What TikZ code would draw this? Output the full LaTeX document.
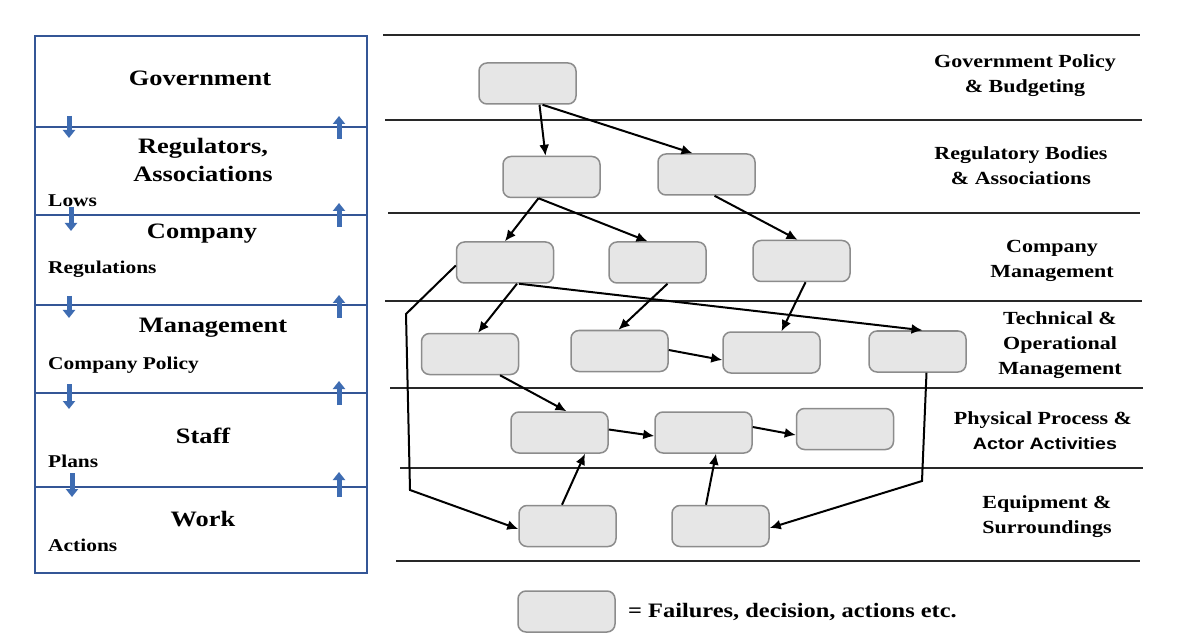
\documentclass[tikz,border=0pt]{standalone}
\usepackage{fontspec}
\setmainfont{Liberation Serif}
\newfontfamily\arialfont{Liberation Sans}
\usetikzlibrary{arrows.meta}
\definecolor{frameblue}{RGB}{52,86,150}
\definecolor{arrowblue}{RGB}{62,108,178}
\definecolor{boxfill}{RGB}{230,230,230}
\definecolor{boxline}{RGB}{140,140,140}
\definecolor{rule}{RGB}{40,40,40}
\tikzset{
  event/.style={draw=boxline, fill=boxfill, line width=1.5pt, rounded corners=8pt,
    minimum width=97pt, minimum height=41pt, inner sep=0pt},
  flow/.style={draw=black, line width=2pt, -{Latex[length=11pt 0, width=10pt 0]}},
  levelrule/.style={draw=rule, line width=2.5pt},
  frame/.style={draw=frameblue, line width=2.8pt},
  down/.style={draw=arrowblue, line width=5pt, -{Triangle[length=8pt 0, width=12pt 0]}},
  heading/.style={font=\bfseries\fontsize{22}{28}\selectfont, xscale=1.2, align=center, inner sep=0pt},
  sublabel/.style={font=\bfseries\fontsize{18}{24}\selectfont, xscale=1.19, anchor=west, inner sep=0pt},
  level/.style={font=\bfseries\fontsize{18.5}{25}\selectfont, xscale=1.19, align=center, inner sep=0pt},
}
\begin{document}
\begin{tikzpicture}[x=1pt, y=-1pt]
\useasboundingbox (0,0) rectangle (1186,636);
\fill[white] (0,0) rectangle (1186,636);

% ---- hierarchy of actors (left column) ----
\draw[frame] (35,36) rectangle (367,573);
\foreach \yy in {127,215,305,393,487}{
  \draw[frame] (35,\yy) -- (367,\yy);
}
% influence arrows between the levels
\foreach \xa/\ya/\yb in {69/116/138, 71/207/231, 69/296/318, 69/384/409, 72/473/497}{
  \draw[down] (\xa,\ya) -- (\xa,\yb);
}
\foreach \yb/\ya in {116/139, 203/227, 295/318, 381/405, 472/497}{
  \draw[down] (339,\ya) -- (339,\yb);
}
\node[heading] (gov) at (200,78) {Government};
\node[heading] (reg) at (203,160) {Regulators,\\Associations};
\node[heading] (comp) at (202,234) {Company};
\node[heading] (mgmt) at (213,328) {Management};
\node[heading] (staff) at (203,436) {Staff};
\node[heading] (work) at (203,519) {Work};
\node[sublabel] (lows) at (48,201) {Lows};
\node[sublabel] (regs) at (48,269) {Regulations};
\node[sublabel] (pol) at (48,365) {Company Policy};
\node[sublabel] (plans) at (48,461) {Plans};
\node[sublabel] (acts) at (48,545) {Actions};

% ---- system levels (right part) ----
\draw[levelrule] (383,35) -- (1140,35);
\draw[levelrule] (385,120) -- (1142,120);
\draw[levelrule] (388,213) -- (1140,213);
\draw[levelrule] (385,301) -- (1142,301);
\draw[levelrule] (390,388) -- (1143,388);
\draw[levelrule] (400,468) -- (1143,468);
\draw[levelrule] (396,561) -- (1140,561);

\node[level] (l1) at (1025,76) {Government Policy\\\& Budgeting};
\node[level] (l2) at (1021,166) {Regulatory Bodies\\\& Associations};
\node[level] (l3) at (1052,261) {Company\\Management};
\node[level] (l4) at (1060,345) {Technical \&\\Operational\\Management};
\node[level] (l5a) at (1043,420) {Physical Process \&};
\node[font=\arialfont\bfseries\fontsize{16.5}{20}\selectfont, xscale=1.19, inner sep=0pt] (l5b) at (1045,444) {Actor Activities};
\node[level] (l6) at (1047,517) {Equipment \&\\Surroundings};

% ---- events ----
\node[event] (A)  at (527.5,83.5) {};
\node[event] (B1) at (551.5,177) {};
\node[event] (B2) at (706.5,174.5) {};
\node[event] (C1) at (505,262.5) {};
\node[event] (C2) at (657.5,262.5) {};
\node[event] (C3) at (801.5,261) {};
\node[event] (D1) at (470,354) {};
\node[event] (D2) at (619.5,351) {};
\node[event] (D3) at (771.5,352.5) {};
\node[event] (D4) at (917.5,351.5) {};
\node[event] (E1) at (559.5,432.5) {};
\node[event] (E2) at (703.5,432.5) {};
\node[event] (E3) at (845,429) {};
\node[event] (F1) at (567.5,526) {};
\node[event] (F2) at (720.5,526) {};

% ---- causal links ----
\draw[flow] ([xshift=12pt]A.south) -- ([xshift=-6pt]B1.north);
\draw[flow] ([xshift=15pt]A.south) -- ([xshift=-14pt]B2.north);
\draw[flow] ([xshift=-13pt]B1.south) -- (C1.north);
\draw[flow] ([xshift=-13pt]B1.south) -- ([xshift=-10pt]C2.north);
\draw[flow] ([xshift=8pt]B2.south) -- ([xshift=-4pt]C3.north);
\coordinate (c1bendA) at (406,314);
\coordinate (c1bendB) at (410,490);
\draw[flow] ([yshift=-3pt]C1.west) -- (c1bendA) -- (c1bendB) -- ([yshift=-3pt]F1.west);
\draw[flow] ([xshift=12pt]C1.south) -- ([xshift=8pt]D1.north);
\draw[flow] ([xshift=14pt]C1.south) -- ([xshift=5pt]D4.north);
\draw[flow] ([xshift=10pt]C2.south) -- ([xshift=-1pt]D2.north);
\draw[flow] ([xshift=4pt]C3.south) -- ([xshift=10pt]D3.north);
\draw[flow] ([yshift=1pt]D2.east) -- ([yshift=-7.5pt]D3.west);
\draw[flow] ([xshift=30pt]D1.south) -- ([xshift=7pt]E1.north);
\draw[flow] ([yshift=3pt]E1.east) -- ([yshift=-3.5pt]E2.west);
\draw[flow] ([yshift=5.5pt]E2.east) -- ([yshift=-6pt]E3.west);
\draw[flow] ([xshift=-5.5pt]F1.north) -- ([xshift=25.5pt]E1.south);
\draw[flow] ([xshift=-14.5pt]F2.north) -- ([xshift=12.5pt]E2.south);
\coordinate (d4bend) at (922,481);
\draw[flow] ([xshift=9pt]D4.south) -- (d4bend) -- ([yshift=-2pt]F2.east);

% ---- legend ----
\node[event] (key) at (566.5,611.5) {};
\node[font=\bfseries\fontsize{20.5}{24}\selectfont, xscale=1.19, anchor=west, inner sep=0pt] (keytext) at (628,612) {= Failures, decision, actions etc.};
\end{tikzpicture}
\end{document}
